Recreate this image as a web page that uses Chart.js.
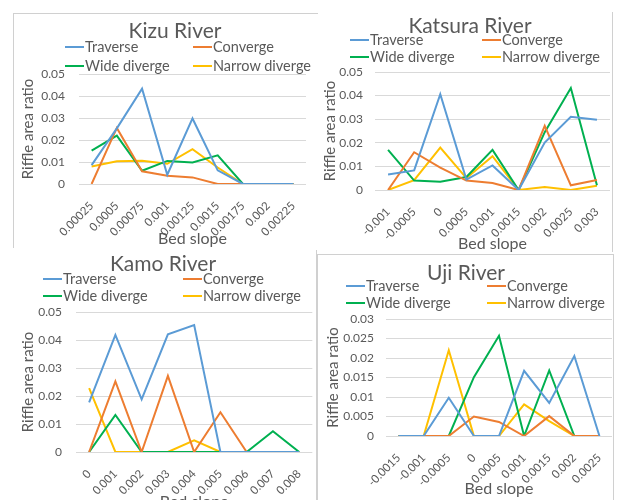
<!DOCTYPE html>
<html>
<head>
<meta charset="utf-8">
<script src="https://cdn.jsdelivr.net/npm/chart.js@4/dist/chart.umd.min.js"></script>
<style>
body{margin:0;width:620px;height:500px;overflow:hidden;background:#fff;position:relative;font-family:Lato,sans-serif;color:#595959}
canvas{position:absolute}
.bg{position:absolute;background:#fff}
.line{position:absolute;background:#d0d0d0}
.ttl{position:absolute;font-size:21px;line-height:24px;transform:translate(-50%,-50%);white-space:nowrap}
.lg{position:absolute;font-size:14.5px;line-height:16px;white-space:nowrap;transform:translateY(-50%)}
.lg i{display:inline-block;width:19px;height:2px;vertical-align:middle;margin-right:1px;position:relative;top:-1px}
</style>
</head>
<body>
<script>

/* series names and colours */
const seriesNames = ["Traverse","Converge","Wide diverge","Narrow diverge"];
const seriesColors = ["#5B9BD5","#ED7D31","#00B050","#FFC000"];

/* Kizu River */
const kizuSlopes = ["0.00025","0.0005","0.00075","0.001","0.00125","0.0015","0.00175","0.002","0.00225"];
const kizuTraverse = [0.0086,0.0253,0.0433,0.0042,0.0298,0.0062,0,0,0];
const kizuConverge = [0,0.0255,0.0058,0.0038,0.003,0,0,0,0];
const kizuWide = [0.0152,0.022,0.006,0.0105,0.0098,0.013,0,0,0];
const kizuNarrow = [0.008,0.0103,0.0106,0.0092,0.0158,0.0075,0,0,0];

/* Katsura River */
const katsuraSlopes = ["-0.001","-0.0005","0","0.0005","0.001","0.0015","0.002","0.0025","0.003"];
const katsuraTraverse = [0.0066,0.0083,0.0406,0.0044,0.0104,0,0.0201,0.031,0.0298];
const katsuraConverge = [0,0.016,0.0095,0.004,0.003,0,0.0272,0.002,0.0042];
const katsuraWide = [0.017,0.004,0.0035,0.0055,0.017,0,0.0245,0.0432,0.002];
const katsuraNarrow = [0,0.0042,0.018,0.005,0.0143,0,0.0013,0,0.0018];

/* Kamo River */
const kamoSlopes = ["0","0.001","0.002","0.003","0.004","0.005","0.006","0.007","0.008"];
const kamoTraverse = [0.0177,0.0418,0.0188,0.042,0.0453,0,0,0,0];
const kamoConverge = [0,0.0252,0,0.0272,0,0.0142,0,0,0];
const kamoWide = [0,0.0132,0,0,0,0,0,0.0074,0];
const kamoNarrow = [0.0228,0,0,0,0.0042,0,0,0,0];

/* Uji River */
const ujiSlopes = ["-0.0015","-0.001","-0.0005","0","0.0005","0.001","0.0015","0.002","0.0025"];
const ujiTraverse = [0,0,0.0098,0,0,0.0167,0.0085,0.0205,0];
const ujiConverge = [0,0,0,0.005,0.0036,0,0.0051,0,0];
const ujiWide = [0,0,0,0.0151,0.0257,0,0.0168,0,0];
const ujiNarrow = [0,0,0.022,0,0,0.0081,0.0038,0,0];

const textColor = "#595959";
const font = "Lato, sans-serif";

function el(cls, css, html){
  let d = document.createElement("div");
  d.className = cls;
  Object.assign(d.style, css);
  if(html) d.innerHTML = html;
  document.body.appendChild(d);
  return d;
}

function panel(p){

  if(p.bg) el("bg",{left:p.bg[0]+"px",top:p.bg[1]+"px",width:p.bg[2]+"px",height:p.bg[3]+"px"});

  let c = document.createElement("canvas");
  c.width = p.w; c.height = p.h;
  c.style.left = p.x+"px"; c.style.top = p.y+"px";
  document.body.appendChild(c);

  new Chart(c,{
    type:"line",
    data:{
      labels:p.labels,
      datasets:p.series.map((s,i)=>({
        label:seriesNames[i],
        data:s,
        borderColor:seriesColors[i],
        backgroundColor:seriesColors[i],
        borderWidth:2,
        pointRadius:0,
        tension:0
      }))
    },
    options:{
      responsive:false,
      animation:false,
      layout:{padding:{top:p.top,right:p.right,left:0,bottom:0}},
      plugins:{legend:{display:false},title:{display:false},tooltip:{enabled:false}},
      scales:{
        x:{
          offset:true,
          grid:{display:false},
          border:{display:false},
          ticks:{autoSkip:false,minRotation:45,maxRotation:45,color:textColor,font:{family:font,size:11.5},padding:p.xpad},
          title:{display:true,text:"Bed slope",color:textColor,font:{family:font,size:16},padding:{top:0,bottom:p.xtp}},
          afterFit:s=>{s.height=p.xh}
        },
        y:{
          min:0,max:p.max,
          ticks:{stepSize:p.step,color:textColor,font:{family:font,size:12},padding:p.ypad,
            callback:v=>String(Math.round(v*10000)/10000)},
          grid:{color:"#d9d9d9",drawTicks:false},
          border:{display:false},
          title:{display:true,text:"Riffle area ratio",color:textColor,font:{family:font,size:15},padding:{top:p.ytp,bottom:0}},
          afterFit:s=>{s.width=p.yw}
        }
      }
    }
  });

  el("ttl",{left:p.title[1]+"px",top:p.title[2]+"px"},p.title[0]);

  seriesNames.forEach((n,i)=>{
    let col = i%2, row = Math.floor(i/2);
    el("lg",{left:p.leg[col]+"px",top:p.leg[2+row]+"px"},'<i style="background:'+seriesColors[i]+'"></i>'+n);
  });
}

panel({x:0,y:0,w:318,h:250,labels:kizuSlopes,series:[kizuTraverse,kizuConverge,kizuWide,kizuNarrow],
  max:0.05,step:0.01,top:74,right:12,yw:79,xh:66,ypad:14,ytp:19,xpad:7,xtp:2,
  title:["Kizu River",175,30],leg:[65,193,47,66]});

panel({x:318,y:0,w:300,h:262,labels:katsuraSlopes,series:[katsuraTraverse,katsuraConverge,katsuraWide,katsuraNarrow],
  max:0.05,step:0.01,top:72,right:8,yw:57,xh:72,ypad:12,ytp:3,xpad:7,xtp:9,
  title:["Katsura River",470,25],leg:[350,482,40,57]});

panel({x:0,y:252,w:316,h:262,labels:kamoSlopes,series:[kamoTraverse,kamoConverge,kamoWide,kamoNarrow],
  max:0.05,step:0.01,top:60,right:1,yw:76,xh:62,ypad:14,ytp:19,xpad:7,xtp:3,
  title:["Kamo River",163,263],leg:[43,183,279,296]});

panel({x:318,y:255,w:300,h:245,bg:[317,254,303,246],labels:ujiSlopes,series:[ujiTraverse,ujiConverge,ujiWide,ujiNarrow],
  max:0.03,step:0.005,top:64,right:6,yw:68,xh:64,ypad:12,ytp:6,xpad:7,xtp:2,
  title:["Uji River",466,272],leg:[346,487,286,303]});

/* panel frames */
el("line",{left:"13px",top:"13px",width:"1px",height:"235px"});
el("line",{left:"13px",top:"13px",width:"305px",height:"1px"});
el("line",{left:"612px",top:"12px",width:"1px",height:"240px"});
el("line",{left:"316px",top:"250px",width:"1px",height:"250px"});
el("line",{left:"317px",top:"254px",width:"1px",height:"246px"});
el("line",{left:"317px",top:"254px",width:"297px",height:"1px"});
el("line",{left:"613px",top:"254px",width:"1px",height:"246px"});

</script>
</body>
</html>
